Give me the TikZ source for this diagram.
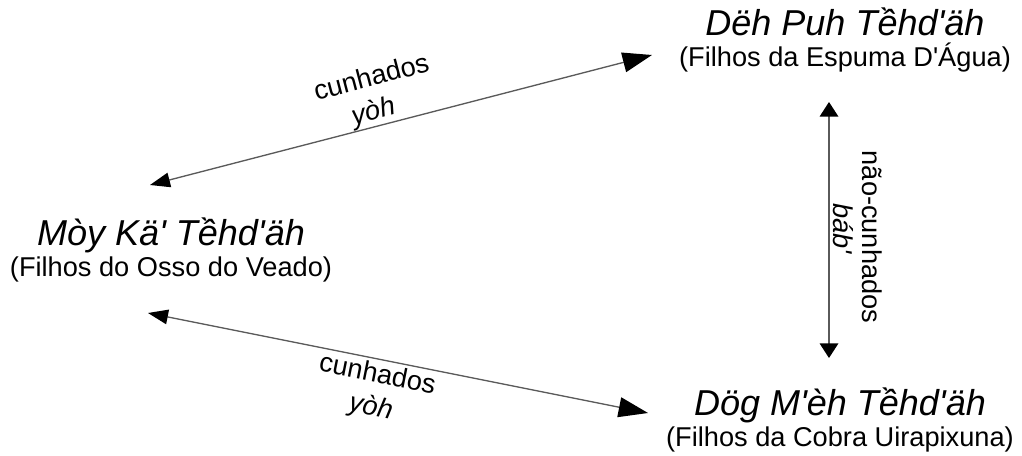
\documentclass[tikz,border=0pt]{standalone}
\usepackage{fontspec}
\setmainfont{Liberation Sans}
\usetikzlibrary{arrows.meta}
\definecolor{lineg}{RGB}{90,90,90}
\newcommand\ap{\textquotesingle}
\newcommand\ttl[1]{{\fontsize{27}{30}\selectfont\itshape #1}}
\tikzset{
  grp/.style={align=center, inner sep=0pt, font=\fontsize{20.4}{23}\selectfont},
  lbl/.style={align=center, inner sep=0pt, font=\fontsize{20.4}{25}\selectfont},
  vlbl/.style={align=center, inner sep=0pt, font=\fontsize{20.4}{21.5}\selectfont},
  conn/.style={draw=lineg, line width=1pt},
  bigtip/.tip={Triangle[length=22pt,width=15pt,color=black]},
  smalltip/.tip={Triangle[length=15pt,width=11pt,color=black]},
  vtip/.tip={Triangle[length=11pt,width=14pt,color=black]}
}
\begin{document}
\begin{tikzpicture}[x=0.75pt,y=-0.75pt]
\useasboundingbox (0,0) rectangle (1022,456);
\node[grp] (dp) at (845,40) {\ttl{Dëh Puh Tềhd\ap äh}\\(Filhos da Espuma D\ap Água)};
\node[grp] (mk) at (171,250) {\ttl{Mòy Kä\ap{} Tềhd\ap äh}\\(Filhos do Osso do Veado)};
\node[grp] (dm) at (840,420) {\ttl{Dög M\ap èh Tềhd\ap äh}\\(Filhos da Cobra Uirapixuna)};

\draw[conn, smalltip-bigtip] ([shift={(-21,-65)}]mk.center) -- ([shift={(-193,15)}]dp.center);
\draw[conn, smalltip-bigtip] ([shift={(-23,63)}]mk.center) -- ([shift={(-192,-7)}]dm.center);
\draw[conn, vtip-vtip] ([shift={(-16,62)}]dp.center) -- ([shift={(-11,-62)}]dm.center);

\node[lbl, rotate=14.7] (l1) at (376,95) {cunhados\\\textit{yòh}\hspace*{10pt}};
\node[lbl, rotate=-11.3] (l2) at (374,392) {cunhados\\\textit{yòh}};
\node[vlbl, rotate=-90] (l3) at (858,237) {não-cunhados\\\textit{báb\ap}\hspace*{12pt}};
\end{tikzpicture}
\end{document}
